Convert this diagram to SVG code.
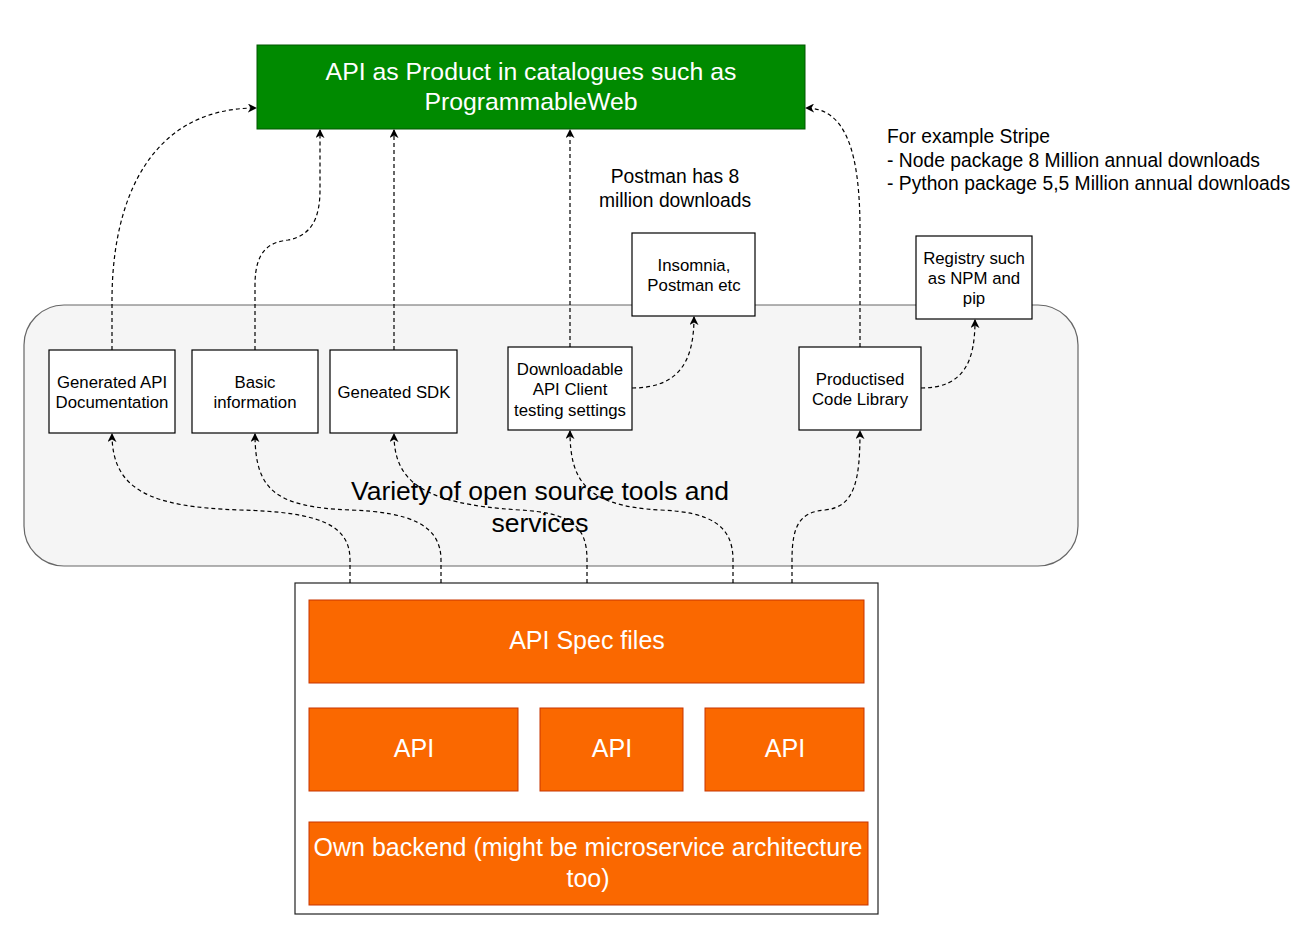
<svg xmlns="http://www.w3.org/2000/svg" width="1316" height="926" viewBox="0 0 1316 926">
<style>
text{font-family:"Liberation Sans",Arial,sans-serif;}
.box{fill:#fff;stroke:#000;stroke-width:1.2;}
.bt{font-size:16.8px;fill:#000;text-anchor:middle;}
.or{fill:#fa6800;stroke:#c73500;stroke-width:1;}
.ot{font-size:25px;fill:#fff;text-anchor:middle;}
.e{fill:none;stroke:#000;stroke-width:1.2;stroke-dasharray:4 3;marker-end:url(#a);}
.note{font-size:19.3px;fill:#000;}
</style>
<defs>
<marker id="a" viewBox="0 0 10 10" refX="9" refY="5" markerWidth="9" markerHeight="9" markerUnits="userSpaceOnUse" orient="auto">
<path d="M0,0 L10,5 L0,10 L3,5 Z" fill="#000"/>
</marker>
</defs>
<rect width="1316" height="926" fill="#fff"/>
<g id="container">
<rect x="24" y="305" width="1054" height="261" rx="40" ry="40" fill="#f5f5f5" stroke="#666" stroke-width="1.2"/>
<text x="540" y="500" font-size="26.5" text-anchor="middle" fill="#000">Variety of open source tools and</text>
<text x="540" y="532" font-size="26.5" text-anchor="middle" fill="#000">services</text>
</g>
<g id="catalogue">
<rect x="257" y="45" width="548" height="84" fill="#008a00" stroke="#005700" stroke-width="1"/>
<text x="531" y="80" font-size="24.8" fill="#fff" text-anchor="middle">API as Product in catalogues such as</text>
<text x="531" y="110" font-size="24.8" fill="#fff" text-anchor="middle">ProgrammableWeb</text>
</g>
<g id="postman-note"><text x="675" y="183" class="note" text-anchor="middle">Postman has 8</text><text x="675" y="207" class="note" text-anchor="middle">million downloads</text></g>
<g id="stripe-note"><text x="887" y="143" class="note">For example Stripe</text><text x="887" y="167" class="note">- Node package 8 Million annual downloads</text><text x="887" y="190" class="note">- Python package 5,5 Million annual downloads</text></g>
<g id="gendoc"><rect class="box" x="49" y="350" width="126" height="83"/><text class="bt" x="112" y="388">Generated API</text><text class="bt" x="112" y="408">Documentation</text></g>
<g id="basic"><rect class="box" x="192" y="350" width="126" height="83"/><text class="bt" x="255" y="388">Basic</text><text class="bt" x="255" y="408">information</text></g>
<g id="sdk"><rect class="box" x="330" y="350" width="127" height="83"/><text class="bt" x="394" y="398">Geneated SDK</text></g>
<g id="client"><rect class="box" x="508" y="347" width="124" height="83"/><text class="bt" x="570" y="375">Downloadable</text><text class="bt" x="570" y="395">API Client</text><text class="bt" x="570" y="416">testing settings</text></g>
<g id="insomnia"><rect class="box" x="632" y="233" width="123" height="83"/><text class="bt" x="694" y="271">Insomnia,</text><text class="bt" x="694" y="291">Postman etc</text></g>
<g id="library"><rect class="box" x="799" y="347" width="122" height="83"/><text class="bt" x="860" y="385">Productised</text><text class="bt" x="860" y="405">Code Library</text></g>
<g id="registry"><rect class="box" x="916" y="236" width="116" height="83"/><text class="bt" x="974" y="264">Registry such</text><text class="bt" x="974" y="284">as NPM and</text><text class="bt" x="974" y="304">pip</text></g>
<g id="backend-stack">
<rect x="295" y="583" width="583" height="331" fill="#fff" stroke="#222" stroke-width="1.2"/>
<g id="spec"><rect class="or" x="309" y="600" width="555" height="83"/><text class="ot" x="587" y="649">API Spec files</text></g>
<g id="api1"><rect class="or" x="309" y="708" width="209" height="83"/><text class="ot" x="414" y="757">API</text></g>
<g id="api2"><rect class="or" x="540" y="708" width="143" height="83"/><text class="ot" x="612" y="757">API</text></g>
<g id="api3"><rect class="or" x="705" y="708" width="159" height="83"/><text class="ot" x="785" y="757">API</text></g>
<g id="backend"><rect class="or" x="309" y="822" width="559" height="83"/><text class="ot" x="588" y="856">Own backend (might be microservice architecture</text><text class="ot" x="588" y="887">too)</text></g>
</g>
<g id="connectors">
<path class="e" d="M112,350 L112,300 C112,200 150,108 256,108"/>
<path class="e" d="M255,350 L255,285 C255,250 270,242 288,240 C310,236 320,220 320,190 L320,130"/>
<path class="e" d="M394,350 L394,130"/>
<path class="e" d="M570,347 L570,130"/>
<path class="e" d="M860,347 L860,230 C860,150 845,108 806,108"/>
<path class="e" d="M632,388 C680,388 694,360 694,317"/>
<path class="e" d="M921,388 C965,388 975,360 975,320"/>
<path class="e" d="M350,583 L350,560 C350,525 320,512 240,510 C150,507 112,490 112,434"/>
<path class="e" d="M441,583 L441,560 C441,525 410,512 350,510 C275,507 255,490 255,434"/>
<path class="e" d="M587,583 L587,560 C587,525 570,513 520,510 C420,504 394,480 394,434"/>
<path class="e" d="M733,583 L733,560 C733,525 710,512 660,510 C585,506 570,480 570,431"/>
<path class="e" d="M792,583 L792,560 C792,525 800,512 825,510 C855,507 860,480 860,431"/>
</g>
</svg>
